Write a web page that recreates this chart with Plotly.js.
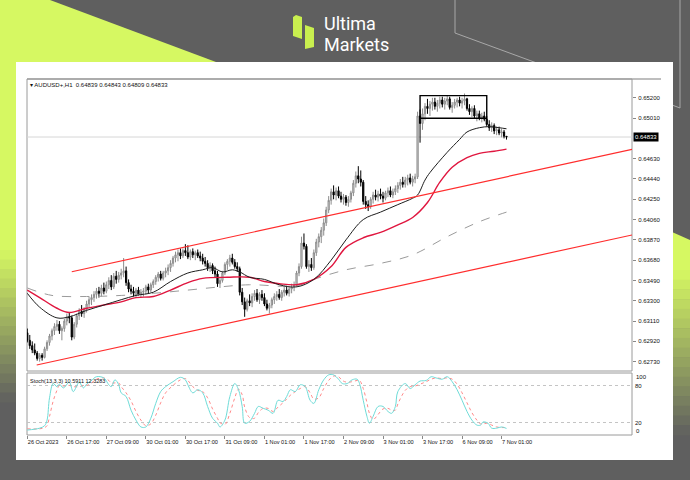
<!DOCTYPE html>
<html><head><meta charset="utf-8">
<script src="https://cdn.plot.ly/plotly-3.0.1.min.js"></script>
<style>html,body{margin:0;padding:0;background:#5f5f5f;}#chart{width:690px;height:480px;}</style>
</head><body><div id="chart"></div>
<script>
// ---------------- DATA ----------------
const symbolLabel = 'AUDUSD+,H1';
const stochLabel = 'Stoch(13,3,3) 10.5911 12.3283';
const dateLabels = ['26 Oct 2023','26 Oct 17:00','27 Oct 09:00','30 Oct 01:00','30 Oct 17:00','31 Oct 09:00','1 Nov 01:00','1 Nov 17:00','2 Nov 09:00','3 Nov 01:00','3 Nov 17:00','6 Nov 09:00','7 Nov 01:00'];
const dateLabelBars = [0,16,32,48,64,80,96,112,128,144,160,176,192];
const priceTicks = [0.62730,0.62920,0.63110,0.63300,0.63490,0.63680,0.63870,0.64060,0.64250,0.64440,0.64630,0.65010,0.65200];

const open = [.6300,.6293,.6288,.6284,.6281,.6276,.6279,.6277,.6285,.6291,
.6297,.6302,.6306,.6308,.6302,.6304,.6311,.6315,.6314,.6296,
.6308,.6316,.6320,.6318,.6322,.6327,.6331,.6333,.6336,.6339,
.6337,.6342,.6339,.6345,.6349,.6343,.6353,.6350,.6354,.6356,
.6358,.6347,.6341,.6339,.6337,.6340,.6336,.6338,.6339,.6343,
.6340,.6345,.6348,.6352,.6355,.6351,.6356,.6358,.6361,.6365,
.6370,.6373,.6375,.6372,.6377,.6375,.6371,.6376,.6373,.6375,
.6372,.6370,.6367,.6365,.6361,.6363,.6358,.6355,.6346,.6349,
.6356,.6364,.6367,.6370,.6366,.6362,.6360,.6338,.6329,.6322,
.6330,.6328,.6334,.6337,.6331,.6336,.6333,.6327,.6323,.6326,
.6331,.6334,.6336,.6333,.6338,.6340,.6337,.6341,.6343,.6345,
.6356,.6362,.6384,.6381,.6362,.6364,.6361,.6375,.6385,.6390,
.6396,.6403,.6415,.6424,.6432,.6429,.6433,.6428,.6425,.6427,
.6422,.6425,.6431,.6440,.6447,.6444,.6441,.6423,.6420,.6418,
.6425,.6429,.6427,.6430,.6428,.6426,.6431,.6433,.6429,.6432,
.6435,.6438,.6441,.6439,.6443,.6445,.6441,.6444,.6446,.6503,
.6496,.6505,.6512,.6510,.6514,.6516,.6512,.6515,.6518,.6514,
.6517,.6519,.6511,.6513,.6516,.6518,.6515,.6517,.6519,.6510,
.6507,.6510,.6503,.6505,.6501,.6503,.6500,.6495,.6492,.6494,
.6489,.6490,.6487,.6488,.64839];
const high = [.6304,.6298,.6292,.6290,.6283,.6281,.6281,.6287,.6293,.6299,
.6304,.6309,.6312,.6311,.6306,.6313,.6318,.6319,.6316,.6310,
.6318,.6323,.6326,.6324,.6330,.6334,.6336,.6339,.6342,.6343,
.6345,.6347,.6348,.6352,.6354,.6356,.6358,.6357,.6360,.6370,
.6362,.6350,.6345,.6343,.6342,.6343,.6341,.6342,.6345,.6346,
.6347,.6350,.6354,.6357,.6358,.6358,.6361,.6364,.6368,.6372,
.6376,.6378,.6379,.6379,.6383,.6382,.6378,.6379,.6377,.6378,
.6376,.6374,.6371,.6368,.6366,.6365,.6362,.6358,.6352,.6358,
.6366,.6369,.6373,.6374,.6369,.6366,.6362,.6342,.6333,.6332,
.6336,.6337,.6340,.6341,.6338,.6340,.6337,.6331,.6328,.6333,
.6337,.6339,.6341,.6340,.6343,.6344,.6343,.6346,.6348,.6358,
.6365,.6390,.6393,.6383,.6368,.6370,.6378,.6388,.6393,.6399,
.6407,.6418,.6428,.6435,.6438,.6436,.6437,.6432,.6430,.6429,
.6428,.6433,.6443,.6451,.6456,.6452,.6443,.6428,.6424,.6427,
.6432,.6434,.6433,.6435,.6432,.6433,.6436,.6437,.6435,.6438,
.6441,.6444,.6446,.6446,.6448,.6449,.6447,.6449,.6507,.6509,
.6510,.6515,.6519,.6517,.6520,.6520,.6518,.6521,.6521,.6520,
.6522,.6521,.6516,.6519,.6520,.6521,.6520,.6524,.6520,.6514,
.6512,.6513,.6508,.6508,.6506,.6507,.6503,.6499,.6497,.6496,
.6493,.6493,.6491,.6490,.64843];
const low = [.6291,.6285,.6281,.6279,.6274,.6273,.6274,.6276,.6283,.6288,
.6293,.6298,.6302,.6299,.6293,.6301,.6307,.6309,.6293,.6294,
.6305,.6312,.6315,.6314,.6319,.6324,.6326,.6329,.6332,.6333,
.6334,.6336,.6337,.6341,.6340,.6341,.6346,.6347,.6350,.6352,
.6344,.6338,.6336,.6334,.6333,.6335,.6333,.6334,.6336,.6337,
.6338,.6342,.6345,.6348,.6349,.6349,.6352,.6354,.6357,.6362,
.6366,.6367,.6369,.6370,.6372,.6369,.6368,.6370,.6368,.6370,
.6367,.6364,.6362,.6358,.6357,.6355,.6352,.6343,.6342,.6347,
.6354,.6359,.6362,.6364,.6360,.6357,.6335,.6326,.6315,.6320,
.6325,.6324,.6330,.6329,.6327,.6330,.6325,.6321,.6318,.6323,
.6327,.6330,.6331,.6330,.6334,.6335,.6334,.6337,.6339,.6343,
.6353,.6360,.6378,.6360,.6357,.6358,.6359,.6372,.6380,.6384,
.6391,.6400,.6412,.6420,.6425,.6424,.6426,.6422,.6420,.6419,
.6418,.6422,.6428,.6436,.6440,.6437,.6420,.6416,.6414,.6416,
.6421,.6424,.6423,.6425,.6422,.6424,.6427,.6427,.6426,.6429,
.6431,.6434,.6436,.6436,.6438,.6439,.6437,.6440,.6444,.6478,
.6490,.6499,.6505,.6503,.6508,.6509,.6507,.6510,.6511,.6509,
.6513,.6509,.6506,.6510,.6511,.6512,.6510,.6513,.6508,.6504,
.6502,.6501,.6498,.6499,.6497,.6498,.6493,.6489,.6488,.6486,
.6485,.6485,.6483,.6482,.64809];
const close = [.6293,.6288,.6284,.6281,.6276,.6279,.6277,.6285,.6291,.6297,
.6302,.6306,.6308,.6302,.6304,.6311,.6315,.6314,.6296,.6308,
.6316,.6320,.6318,.6322,.6327,.6331,.6333,.6336,.6339,.6337,
.6342,.6339,.6345,.6349,.6343,.6353,.6350,.6354,.6356,.6358,
.6347,.6341,.6339,.6337,.6340,.6336,.6338,.6339,.6343,.6340,
.6345,.6348,.6352,.6355,.6351,.6356,.6358,.6361,.6365,.6370,
.6373,.6375,.6372,.6377,.6375,.6371,.6376,.6373,.6375,.6372,
.6370,.6367,.6365,.6361,.6363,.6358,.6355,.6346,.6349,.6356,
.6364,.6367,.6370,.6366,.6362,.6360,.6338,.6329,.6322,.6330,
.6328,.6334,.6337,.6331,.6336,.6333,.6327,.6323,.6326,.6331,
.6334,.6336,.6333,.6338,.6340,.6337,.6341,.6343,.6345,.6356,
.6362,.6384,.6381,.6362,.6364,.6361,.6375,.6385,.6390,.6396,
.6403,.6415,.6424,.6432,.6429,.6433,.6428,.6425,.6427,.6422,
.6425,.6431,.6440,.6447,.6444,.6441,.6423,.6420,.6418,.6425,
.6429,.6427,.6430,.6428,.6426,.6431,.6433,.6429,.6432,.6435,
.6438,.6441,.6439,.6443,.6445,.6441,.6444,.6446,.6503,.6496,
.6505,.6512,.6510,.6514,.6516,.6512,.6515,.6518,.6514,.6517,
.6519,.6511,.6513,.6516,.6518,.6515,.6517,.6519,.6510,.6507,
.6510,.6503,.6505,.6501,.6503,.6500,.6495,.6492,.6494,.6489,
.6490,.6487,.6488,.6484,.64833];

// moving averages (bar index, price)
const maFastBars  = [0,5,12,17,24,31,38,44,51,58,65,71,75,79,83,86,90,96,102,109,116,123,129,136,143,150,156,158,161,163,170,175,178,183,187,191,194];
const maFastVals  = [.6337,.6324,.6314,.6315,.6321,.6326,.6331,.6335,.6338,.6348,.6356,.6359,.6361,.6357,.6359,.6357,.6352,.6350,.6345,.6343,.6350,.6368,.6387,.6406,.6413,.6420,.6426,.6429,.6443,.6450,.6469,.6481,.6488,.6492,.6493,.6492,.6491];
const maMidBars   = [0,5,12,17,24,31,38,44,51,58,65,71,81,90,96,102,109,116,123,129,136,143,150,156,162,167,172,178,183,189,194];
const maMidVals   = [.6340,.6333,.6323,.6319,.6323,.6326,.6329,.6333,.6334,.6340,.6347,.6351,.6352,.6352,.6348,.6346,.6345,.6350,.6362,.6380,.6389,.6394,.6401,.6408,.6422,.6441,.6455,.6464,.6468,.6470,.6472];
const maSlowBars  = [0,10,24,38,51,65,78,90,109,116,129,143,156,170,183,194];
const maSlowVals  = [.6342,.6335,.6334,.6335,.6337,.6340,.6343,.6345,.6344,.6350,.6359,.6365,.6373,.6390,.6404,.6413];

// trend channel (bar index, price)
const upperTrendBars = [18, 244.8];
const upperTrendVals = [0.63572, 0.64717];
const lowerTrendBars = [3.8, 244.8];
const lowerTrendVals = [0.62699, 0.63916];

// consolidation box
const boxBars = [159, 186];
const boxVals = [0.65008, 0.65220];

// stochastic (bar index, %K, %D)
const stochBars = [0,5,7,8,9,10.5,12,13,14.6,17,18.6,21,22.7,24,26,28,31,33,34,35.5,37,38,40,42,44,46,48,50,52,54,56,59,62,64,65,67,69,71,73,75,77,78,80,82,84,85.5,87,88,90,92,93.5,95.5,97.5,99.5,101.5,103.5,105,106.5,108.5,110.5,112.5,114.5,116,118,120,122,124,126,127.5,129.5,131.5,133.5,134.5,136,137.5,138.5,140,142,144,146,147.5,149,150,153,155,157,159,161.5,163.5,165.5,168,170,172,174,176,178,180,182,183.5,184.5,186.5,188,190,192,194];
const stochK = [8,11,15,24,60,83,78,82,76,85,70,85,76,82,88,94,92,81,78,89,81,68,62,40,24,13,13,27,51,70,78,86,93,89,81,68,73,68,46,27,19,13,24,62,83,73,46,19,22,35,46,43,40,35,56,54,62,73,70,81,78,56,51,73,89,97,97,90,83,83,89,90,83,56,30,19,30,46,46,38,35,46,70,83,75,81,87,88,94,92,90,94,86,73,56,38,24,16,16,21,19,11,11,13,10.6];
const stochD = [10,10,12,15,30,55,72,80,79,80,78,78,80,80,84,90,92,88,84,84,84,78,68,55,38,24,15,18,32,52,68,80,89,91,88,78,72,70,60,42,27,20,17,35,60,74,65,45,28,27,36,43,43,38,45,52,58,64,70,75,78,68,58,60,75,88,95,94,88,85,86,88,88,75,52,35,25,33,42,43,40,40,50,72,78,79,82,86,90,92,91,92,90,82,68,52,36,24,18,18,19,16,13,12,12.3];

// ---------------- GEOMETRY (pixels of the 690x480 picture) ----------------
const L = 27, R = 632, T = 79, B = 435, W = R - L, H = B - T;
const fx = px => (px - L) / W;
const fy = py => (B - py) / H;
const bars = close.map((_, i) => i);
const last = close.length - 1;
const f5 = v => v.toFixed(5);

const shapes = [];
function rectPx(x0, y0, x1, y1, fill, line, layer) {
  shapes.push({type:'rect', xref:'paper', yref:'paper', x0:fx(x0), x1:fx(x1), y0:fy(y1), y1:fy(y0),
    fillcolor: fill || 'rgba(0,0,0,0)', line: line || {width:0}, layer: layer || 'below'});
}
function polyPx(pts, fill) {
  const d = pts.map((p, i) => (i ? 'L' : 'M') + fx(p[0]).toFixed(5) + ',' + fy(p[1]).toFixed(5)).join(' ') + ' Z';
  shapes.push({type:'path', xref:'paper', yref:'paper', path:d, fillcolor:fill, line:{width:0}, layer:'below'});
}
function linePx(x0, y0, x1, y1, color, w, layer) {
  shapes.push({type:'line', xref:'paper', yref:'paper', x0:fx(x0), x1:fx(x1), y0:fy(y0), y1:fy(y1),
    line:{color:color, width:w}, layer: layer || 'below'});
}
function mix(a, b, t) {
  return 'rgb(' + a.map((v, i) => Math.round(v + (b[i] - v) * t)).join(',') + ')';
}
const LIME = [214, 248, 98], GREY = [95, 95, 95];
// top-left lime area
polyPx([[0,0],[50,0],[216,62],[0,62]], mix(LIME, LIME, 0));
rectPx(0, 61, 17, 252, mix(LIME, LIME, 0));
for (let k = 0; k < 16; k++) {
  const y0 = 250 + k * 9.5;
  rectPx(0, y0, 17, y0 + 10, mix(LIME, GREY, (k + 0.5) / 16));
}
// right lime area
polyPx([[672,232],[690,240],[690,272],[672,272]], mix(LIME, LIME, 0));
for (let k = 0; k < 17; k++) {
  const y0 = 270 + k * 9.7;
  rectPx(672, y0, 690, y0 + 10.2, mix(LIME, GREY, (k + 0.5) / 17));
}
// thin outline strokes in the header
linePx(455, 0, 455, 33, '#a8a8a8', 1);
linePx(455, 33, 545, 66, '#a8a8a8', 1);
linePx(680, 0, 680, 108, '#a8a8a8', 1);
linePx(672, 105, 680, 108, '#a8a8a8', 1);
// logo icon
polyPx([[293,17],[296,15],[302,17],[302,39],[293,36]], '#c9ef4f');
polyPx([[305,25],[314,28],[314,47],[305,49]], '#c9ef4f');
// white panel
rectPx(16, 62, 673, 460, '#ffffff');
// chart frames
linePx(27, 79, 661, 79, '#a9a9a9', 1.5);
rectPx(27, 79, 632, 371, null, {color:'#9a9a9a', width:1});
rectPx(27, 373, 632, 435, null, {color:'#9a9a9a', width:1});
// bid line
shapes.push({type:'line', xref:'paper', yref:'y2', x0:0, x1:1, y0:close[last], y1:close[last],
  line:{color:'#d6d6d6', width:1}, layer:'below'});

const mtFont = 'Liberation Sans, Arial, sans-serif';
const annotations = [
  {xref:'paper', yref:'paper', x:fx(322), y:fy(23.5), xanchor:'left', yanchor:'middle', showarrow:false,
   text:'Ultima', font:{family:'Roboto, sans-serif', size:18, color:'#ffffff'}},
  {xref:'paper', yref:'paper', x:fx(322), y:fy(44.5), xanchor:'left', yanchor:'middle', showarrow:false,
   text:'Markets', font:{family:'Roboto, sans-serif', size:18, color:'#ffffff'}},
  {xref:'paper', yref:'paper', x:fx(28), y:fy(85), xanchor:'left', yanchor:'middle', showarrow:false,
   text:'▾ ' + symbolLabel + '  ' + [open[last], high[last], low[last], close[last]].map(f5).join(' '),
   font:{family:mtFont, size:6, color:'#111'}},
  {xref:'paper', yref:'paper', x:fx(28), y:fy(381), xanchor:'left', yanchor:'middle', showarrow:false,
   text:stochLabel, font:{family:mtFont, size:5.5, color:'#111'}},
  {xref:'paper', yref:'y2', x:fx(633), y:close[last], xanchor:'left', yanchor:'middle', showarrow:false,
   text:f5(close[last]), bgcolor:'#000000', borderpad:1, font:{family:mtFont, size:6, color:'#ffffff'}},
  {xref:'paper', yref:'paper', x:fx(634), y:fy(377), xanchor:'left', yanchor:'middle', showarrow:false,
   text:'100', font:{family:mtFont, size:6, color:'#111'}},
  {xref:'paper', yref:'paper', x:fx(634), y:fy(431), xanchor:'left', yanchor:'middle', showarrow:false,
   text:'0', font:{family:mtFont, size:6, color:'#111'}}
];

const traces = [
  {type:'candlestick', x:bars, open:open, high:high, low:low, close:close, xaxis:'x', yaxis:'y2',
   increasing:{line:{color:'#8c8c8c', width:1}, fillcolor:'#dcdcdc'},
   decreasing:{line:{color:'#000000', width:1}, fillcolor:'#000000'},
   whiskerwidth:0, hoverinfo:'skip'},
  {type:'scatter', mode:'lines', x:maSlowBars, y:maSlowVals, xaxis:'x', yaxis:'y2',
   line:{color:'#9b9b9b', width:1, dash:'dash', shape:'spline'}},
  {type:'scatter', mode:'lines', x:maMidBars, y:maMidVals, xaxis:'x', yaxis:'y2',
   line:{color:'#e0163f', width:1.4, shape:'spline'}},
  {type:'scatter', mode:'lines', x:maFastBars, y:maFastVals, xaxis:'x', yaxis:'y2',
   line:{color:'#1e1e1e', width:1, shape:'spline'}},
  {type:'scatter', mode:'lines', x:upperTrendBars, y:upperTrendVals, xaxis:'x', yaxis:'y2',
   line:{color:'#ff2d2d', width:1.2}},
  {type:'scatter', mode:'lines', x:lowerTrendBars, y:lowerTrendVals, xaxis:'x', yaxis:'y2',
   line:{color:'#ff2d2d', width:1.2}},
  {type:'scatter', mode:'lines', xaxis:'x', yaxis:'y2',
   x:[boxBars[0], boxBars[1], boxBars[1], boxBars[0], boxBars[0]],
   y:[boxVals[0], boxVals[0], boxVals[1], boxVals[1], boxVals[0]],
   line:{color:'#000000', width:1.4}},
  {type:'scatter', mode:'lines', x:stochBars, y:stochD, xaxis:'x', yaxis:'y',
   line:{color:'#ff8a8a', width:1, dash:'dot', shape:'spline'}},
  {type:'scatter', mode:'lines', x:stochBars, y:stochK, xaxis:'x', yaxis:'y',
   line:{color:'#6fdcd8', width:1, shape:'spline'}}
];

const layout = {
  width:690, height:480,
  margin:{l:L, r:690 - R, t:T, b:480 - B, pad:0},
  paper_bgcolor:'#5f5f5f', plot_bgcolor:'rgba(0,0,0,0)',
  showlegend:false, dragmode:false, hovermode:false,
  xaxis:{domain:[0,1], range:[-0.12, 244.8], anchor:'y', tickvals:dateLabelBars, ticktext:dateLabels,
    tickangle:0, ticks:'outside', ticklen:3, tickcolor:'#888', ticklabelposition:'outside right', ticklabelstandoff:1,
    tickfont:{family:mtFont, size:5.6, color:'#111'}, showgrid:false, zeroline:false, showline:false,
    rangeslider:{visible:false}, fixedrange:true},
  yaxis:{domain:[0, fy(373)], range:[0,100], anchor:'x', side:'right', tickvals:[20,80], ticktext:['20','80'],
    ticks:'', showgrid:true, gridcolor:'#c4c4c4', griddash:'dot', gridwidth:1, zeroline:false, showline:false,
    tickfont:{family:mtFont, size:6, color:'#111'}, ticklabelstandoff:2, fixedrange:true},
  yaxis2:{domain:[fy(370), 1], range:[0.62652, 0.65376], anchor:'x', side:'right',
    tickvals:priceTicks, ticktext:priceTicks.map(f5), ticks:'outside', ticklen:3, tickcolor:'#888',
    showgrid:false, zeroline:false, showline:false, ticklabelstandoff:1,
    tickfont:{family:mtFont, size:6, color:'#111'}, fixedrange:true},
  shapes:shapes, annotations:annotations
};

Plotly.newPlot('chart', traces, layout, {staticPlot:true, displayModeBar:false});
</script>
</body></html>
